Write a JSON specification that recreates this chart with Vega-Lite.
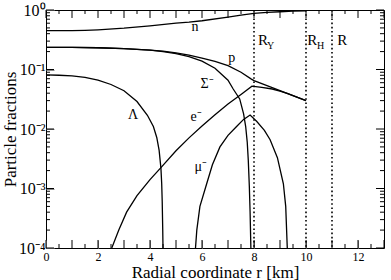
{
  "$schema": "https://vega.github.io/schema/vega-lite/v6.json",
  "width": 338,
  "height": 238,
  "autosize": {"type": "none"},
  "padding": {"left": 46, "top": 10, "right": 7, "bottom": 32},
  "background": "white",
  "config": {
    "view": {"stroke": "black", "strokeWidth": 1},
    "font": "Liberation Serif",
    "axis": {"grid": false, "domain": false, "labelColor": "black", "titleColor": "black", "labelFont": "Liberation Serif", "titleFont": "Liberation Serif", "titleFontWeight": "normal"}
  },
  "datasets": {
    "curves": [
      {"s": "n", "r": 0, "f": 0.45}, {"s": "n", "r": 1, "f": 0.45}, {"s": "n", "r": 1.5, "f": 0.455}, {"s": "n", "r": 2, "f": 0.465}, {"s": "n", "r": 3, "f": 0.495}, {"s": "n", "r": 4, "f": 0.54}, {"s": "n", "r": 5, "f": 0.6}, {"s": "n", "r": 5.5, "f": 0.625}, {"s": "n", "r": 6, "f": 0.66}, {"s": "n", "r": 7, "f": 0.76}, {"s": "n", "r": 7.5, "f": 0.82}, {"s": "n", "r": 8, "f": 0.88}, {"s": "n", "r": 8.5, "f": 0.91}, {"s": "n", "r": 9, "f": 0.935}, {"s": "n", "r": 9.5, "f": 0.955}, {"s": "n", "r": 10, "f": 0.97},
      {"s": "p", "r": 0, "f": 0.235}, {"s": "p", "r": 1, "f": 0.235}, {"s": "p", "r": 2, "f": 0.232}, {"s": "p", "r": 3, "f": 0.224}, {"s": "p", "r": 4, "f": 0.212}, {"s": "p", "r": 4.5, "f": 0.203}, {"s": "p", "r": 5, "f": 0.19}, {"s": "p", "r": 5.5, "f": 0.175}, {"s": "p", "r": 6, "f": 0.155}, {"s": "p", "r": 6.5, "f": 0.137}, {"s": "p", "r": 7, "f": 0.116}, {"s": "p", "r": 7.5, "f": 0.09}, {"s": "p", "r": 7.9, "f": 0.069}, {"s": "p", "r": 8, "f": 0.065}, {"s": "p", "r": 8.5, "f": 0.0536}, {"s": "p", "r": 9, "f": 0.0441}, {"s": "p", "r": 9.5, "f": 0.0364}, {"s": "p", "r": 10, "f": 0.03},
      {"s": "S", "r": 0, "f": 0.235}, {"s": "S", "r": 1, "f": 0.235}, {"s": "S", "r": 2, "f": 0.232}, {"s": "S", "r": 3, "f": 0.224}, {"s": "S", "r": 4, "f": 0.211}, {"s": "S", "r": 4.5, "f": 0.2}, {"s": "S", "r": 5, "f": 0.185}, {"s": "S", "r": 5.5, "f": 0.164}, {"s": "S", "r": 6, "f": 0.138}, {"s": "S", "r": 6.5, "f": 0.105}, {"s": "S", "r": 7, "f": 0.066}, {"s": "S", "r": 7.2, "f": 0.047}, {"s": "S", "r": 7.45, "f": 0.032}, {"s": "S", "r": 7.6, "f": 0.018}, {"s": "S", "r": 7.68, "f": 0.011}, {"s": "S", "r": 7.74, "f": 0.006}, {"s": "S", "r": 7.78, "f": 0.003}, {"s": "S", "r": 7.82, "f": 0.0011}, {"s": "S", "r": 7.85, "f": 0.0004}, {"s": "S", "r": 7.88, "f": 0.0001},
      {"s": "L", "r": 0, "f": 0.081}, {"s": "L", "r": 0.5, "f": 0.08}, {"s": "L", "r": 1, "f": 0.078}, {"s": "L", "r": 1.5, "f": 0.074}, {"s": "L", "r": 2, "f": 0.066}, {"s": "L", "r": 2.5, "f": 0.056}, {"s": "L", "r": 3, "f": 0.044}, {"s": "L", "r": 3.5, "f": 0.029}, {"s": "L", "r": 3.9, "f": 0.017}, {"s": "L", "r": 4.13, "f": 0.011}, {"s": "L", "r": 4.26, "f": 0.0072}, {"s": "L", "r": 4.35, "f": 0.0044}, {"s": "L", "r": 4.42, "f": 0.0022}, {"s": "L", "r": 4.45, "f": 0.0012}, {"s": "L", "r": 4.47, "f": 0.0006}, {"s": "L", "r": 4.49, "f": 0.0002}, {"s": "L", "r": 4.5, "f": 0.0001},
      {"s": "e", "r": 2.53, "f": 0.0001}, {"s": "e", "r": 2.8, "f": 0.0002}, {"s": "e", "r": 3.1, "f": 0.0004}, {"s": "e", "r": 3.5, "f": 0.00076}, {"s": "e", "r": 4, "f": 0.00141}, {"s": "e", "r": 4.42, "f": 0.00224}, {"s": "e", "r": 5, "f": 0.0043}, {"s": "e", "r": 5.5, "f": 0.0071}, {"s": "e", "r": 6, "f": 0.0112}, {"s": "e", "r": 6.5, "f": 0.0174}, {"s": "e", "r": 7, "f": 0.0263}, {"s": "e", "r": 7.5, "f": 0.038}, {"s": "e", "r": 7.92, "f": 0.0525}, {"s": "e", "r": 8.3, "f": 0.05}, {"s": "e", "r": 8.7, "f": 0.047}, {"s": "e", "r": 9.0, "f": 0.0435}, {"s": "e", "r": 9.3, "f": 0.0394}, {"s": "e", "r": 9.5, "f": 0.0364}, {"s": "e", "r": 10, "f": 0.03},
      {"s": "m", "r": 5.75, "f": 0.0001}, {"s": "m", "r": 5.8, "f": 0.0002}, {"s": "m", "r": 5.92, "f": 0.0005}, {"s": "m", "r": 6.18, "f": 0.0012}, {"s": "m", "r": 6.4, "f": 0.0025}, {"s": "m", "r": 6.69, "f": 0.005}, {"s": "m", "r": 7, "f": 0.0078}, {"s": "m", "r": 7.33, "f": 0.011}, {"s": "m", "r": 7.6, "f": 0.0145}, {"s": "m", "r": 7.85, "f": 0.0172}, {"s": "m", "r": 8.1, "f": 0.0135}, {"s": "m", "r": 8.4, "f": 0.0095}, {"s": "m", "r": 8.62, "f": 0.0066}, {"s": "m", "r": 8.9, "f": 0.0033}, {"s": "m", "r": 9.13, "f": 0.0012}, {"s": "m", "r": 9.22, "f": 0.0005}, {"s": "m", "r": 9.28, "f": 0.0001}
    ],
    "xMajor": [{"v": 0}, {"v": 1}, {"v": 2}, {"v": 3}, {"v": 4}, {"v": 5}, {"v": 6}, {"v": 7}, {"v": 8}, {"v": 9}, {"v": 10}, {"v": 11}, {"v": 12}, {"v": 13}],
    "xMinor": [{"v": 0.5}, {"v": 1.5}, {"v": 2.5}, {"v": 3.5}, {"v": 4.5}, {"v": 5.5}, {"v": 6.5}, {"v": 7.5}, {"v": 8.5}, {"v": 9.5}, {"v": 10.5}, {"v": 11.5}, {"v": 12.5}],
    "yMajor": [{"v": 0.0001}, {"v": 0.001}, {"v": 0.01}, {"v": 0.1}, {"v": 1}],
    "yMinor": [{"v": 0.0002}, {"v": 0.0003}, {"v": 0.0004}, {"v": 0.0005}, {"v": 0.0006}, {"v": 0.0007}, {"v": 0.0008}, {"v": 0.0009}, {"v": 0.002}, {"v": 0.003}, {"v": 0.004}, {"v": 0.005}, {"v": 0.006}, {"v": 0.007}, {"v": 0.008}, {"v": 0.009}, {"v": 0.02}, {"v": 0.03}, {"v": 0.04}, {"v": 0.05}, {"v": 0.06}, {"v": 0.07}, {"v": 0.08}, {"v": 0.09}, {"v": 0.2}, {"v": 0.3}, {"v": 0.4}, {"v": 0.5}, {"v": 0.6}, {"v": 0.7}, {"v": 0.8}, {"v": 0.9}],
    "radii": [{"r": 8}, {"r": 10}, {"r": 11}],
    "curveLabels": [
      {"t": "n", "r": 5.73, "f": 0.52},
      {"t": "p", "r": 7.14, "f": 0.154},
      {"t": "Σ⁻", "r": 6.2, "f": 0.058},
      {"t": "Λ", "r": 3.35, "f": 0.017},
      {"t": "e⁻", "r": 5.77, "f": 0.016},
      {"t": "μ⁻", "r": 5.95, "f": 0.0023}
    ],
    "radiusLabels": [
      {"t": "R", "r": 8.15, "f": 0.313},
      {"t": "R", "r": 10.05, "f": 0.313},
      {"t": "R", "r": 11.2, "f": 0.313}
    ],
    "radiusSubs": [
      {"t": "Y", "r": 8.5, "f": 0.25},
      {"t": "H", "r": 10.42, "f": 0.25}
    ]
  },
  "layer": [
    {
      "data": {"name": "curves"},
      "mark": {"type": "line", "color": "black", "strokeWidth": 1.3, "clip": true},
      "encoding": {
        "x": {"field": "r", "type": "quantitative", "title": "Radial coordinate r [km]", "scale": {"domain": [0, 13], "nice": false},
          "axis": {"orient": "bottom", "titleFontSize": 17, "titlePadding": 2,
            "values": [0,1,2,3,4,5,6,7,8,9,10,11,12,13], "offset": -8, "tickSize": 8,
            "labelExpr": "format(datum.value, 'd')", "labelOverlap": false, "labelFlush": false,
            "labelFontSize": 12, "labelPadding": 3}},
        "y": {"field": "f", "type": "quantitative", "title": "Particle fractions", "scale": {"type": "log", "domain": [0.0001, 1], "nice": false},
          "axis": {"orient": "left", "titleFontSize": 17, "titlePadding": -1,
            "values": [0.0001, 0.001, 0.01, 0.1, 1], "offset": -8, "tickSize": 8,
            "labelExpr": "'10' + (round(log(datum.value)/LN10) == 0 ? '⁰' : round(log(datum.value)/LN10) == -1 ? '⁻¹' : round(log(datum.value)/LN10) == -2 ? '⁻²' : round(log(datum.value)/LN10) == -3 ? '⁻³' : '⁻⁴')",
            "labelOverlap": false, "labelFlush": false, "labelFontSize": 16, "labelPadding": 1}},
        "detail": {"field": "s"}
      }
    },
    {
      "data": {"name": "xMajor"},
      "mark": {"type": "rule", "color": "black", "strokeWidth": 1},
      "encoding": {"x": {"field": "v", "type": "quantitative", "title": "Radial coordinate r [km]"}, "y": {"datum": 0.0001, "type": "quantitative", "title": "Particle fractions"}, "y2": {"datum": 0.0001363}}
    },
    {
      "data": {"name": "xMajor"},
      "mark": {"type": "rule", "color": "black", "strokeWidth": 1},
      "encoding": {"x": {"field": "v", "type": "quantitative", "title": "Radial coordinate r [km]"}, "y": {"datum": 1, "type": "quantitative", "title": "Particle fractions"}, "y2": {"datum": 0.734}}
    },
    {
      "data": {"name": "xMinor"},
      "mark": {"type": "rule", "color": "black", "strokeWidth": 1},
      "encoding": {"x": {"field": "v", "type": "quantitative", "title": "Radial coordinate r [km]"}, "y": {"datum": 0.0001, "type": "quantitative", "title": "Particle fractions"}, "y2": {"datum": 0.0001168}}
    },
    {
      "data": {"name": "xMinor"},
      "mark": {"type": "rule", "color": "black", "strokeWidth": 1},
      "encoding": {"x": {"field": "v", "type": "quantitative", "title": "Radial coordinate r [km]"}, "y": {"datum": 1, "type": "quantitative", "title": "Particle fractions"}, "y2": {"datum": 0.857}}
    },
    {
      "data": {"name": "yMajor"},
      "mark": {"type": "rule", "color": "black", "strokeWidth": 1},
      "encoding": {"y": {"field": "v", "type": "quantitative", "title": "Particle fractions"}, "x": {"datum": 0, "type": "quantitative", "title": "Radial coordinate r [km]"}, "x2": {"datum": 0.3077}}
    },
    {
      "data": {"name": "yMajor"},
      "mark": {"type": "rule", "color": "black", "strokeWidth": 1},
      "encoding": {"y": {"field": "v", "type": "quantitative", "title": "Particle fractions"}, "x": {"datum": 13, "type": "quantitative", "title": "Radial coordinate r [km]"}, "x2": {"datum": 12.692}}
    },
    {
      "data": {"name": "yMinor"},
      "mark": {"type": "rule", "color": "black", "strokeWidth": 1},
      "encoding": {"y": {"field": "v", "type": "quantitative", "title": "Particle fractions"}, "x": {"datum": 0, "type": "quantitative", "title": "Radial coordinate r [km]"}, "x2": {"datum": 0.1538}}
    },
    {
      "data": {"name": "yMinor"},
      "mark": {"type": "rule", "color": "black", "strokeWidth": 1},
      "encoding": {"y": {"field": "v", "type": "quantitative", "title": "Particle fractions"}, "x": {"datum": 13, "type": "quantitative", "title": "Radial coordinate r [km]"}, "x2": {"datum": 12.846}}
    },
    {
      "data": {"name": "radii"},
      "mark": {"type": "rule", "color": "black", "strokeWidth": 1.6, "strokeDash": [1.6, 2.6]},
      "encoding": {"x": {"field": "r", "type": "quantitative", "title": "Radial coordinate r [km]"}}
    },
    {
      "data": {"name": "curveLabels"},
      "mark": {"type": "text", "fontSize": 14, "font": "Liberation Serif", "color": "black", "align": "center", "baseline": "middle"},
      "encoding": {
        "x": {"field": "r", "type": "quantitative", "title": "Radial coordinate r [km]"},
        "y": {"field": "f", "type": "quantitative", "title": "Particle fractions"},
        "text": {"field": "t"}
      }
    },
    {
      "data": {"name": "radiusLabels"},
      "mark": {"type": "text", "fontSize": 15, "font": "Liberation Serif", "color": "black", "align": "left", "baseline": "middle"},
      "encoding": {
        "x": {"field": "r", "type": "quantitative", "title": "Radial coordinate r [km]"},
        "y": {"field": "f", "type": "quantitative", "title": "Particle fractions"},
        "text": {"field": "t"}
      }
    },
    {
      "data": {"name": "radiusSubs"},
      "mark": {"type": "text", "fontSize": 10, "font": "Liberation Serif", "color": "black", "align": "left", "baseline": "middle"},
      "encoding": {
        "x": {"field": "r", "type": "quantitative", "title": "Radial coordinate r [km]"},
        "y": {"field": "f", "type": "quantitative", "title": "Particle fractions"},
        "text": {"field": "t"}
      }
    }
  ]
}
